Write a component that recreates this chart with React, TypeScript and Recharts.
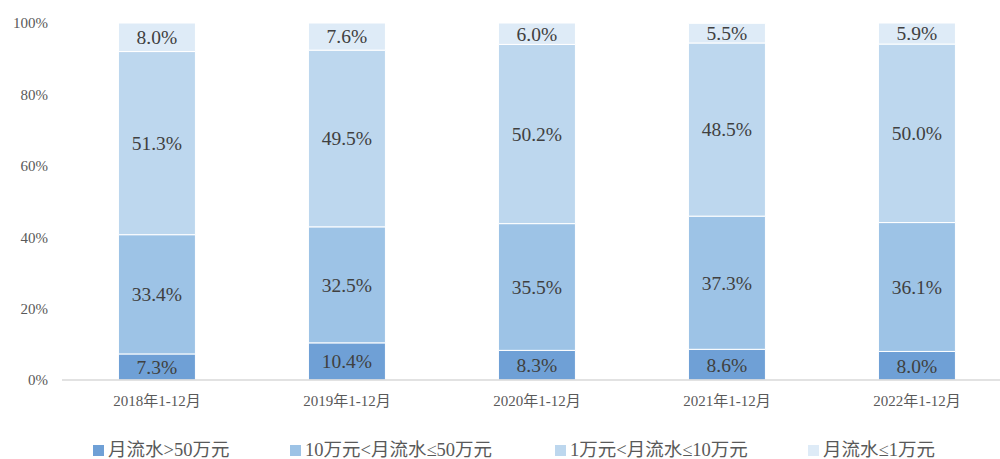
import React from 'react';
import { BarChart, Bar, XAxis, YAxis, LabelList } from 'recharts';

const categories = ['2018年1-12月', '2019年1-12月', '2020年1-12月', '2021年1-12月', '2022年1-12月'];
const seriesNames = ['月流水>50万元', '10万元<月流水≤50万元', '1万元<月流水≤10万元', '月流水≤1万元'];
const over50 = [7.3, 10.4, 8.3, 8.6, 8.0];
const from10to50 = [33.4, 32.5, 35.5, 37.3, 36.1];
const from1to10 = [51.3, 49.5, 50.2, 48.5, 50.0];
const under1 = [8.0, 7.6, 6.0, 5.5, 5.9];
const yTicks = [0, 20, 40, 60, 80, 100];

const colors = ['#6fa0d6', '#9dc3e6', '#bdd7ee', '#deebf7'];
const keys = ['s0', 's1', 's2', 's3'];
const legendLefts = [93, 290, 555, 808];

const data = categories.map((c, i) => ({
  name: c,
  s0: over50[i],
  s1: from10to50[i],
  s2: from1to10[i],
  s3: under1[i],
}));

const fontFamily = '"Liberation Serif", "Noto Sans CJK SC", serif';

export default function App() {
  return (
    <div style={{ position: 'absolute', left: 0, top: 0, width: 1000, height: 459, background: '#fff', fontFamily, overflow: 'hidden' }}>
      <BarChart
        width={1012}
        height={459}
        data={data}
        margin={{ top: 23, right: 0, left: 0, bottom: 49 }}
        barCategoryGap="29.7%"
      >
        <XAxis
          dataKey="name"
          tickLine={false}
          axisLine={{ stroke: '#d9d9d9', strokeWidth: 1.5 }}
          tick={{ fill: '#595959', fontSize: 15, fontFamily }}
          tickMargin={9}
          height={30}
        />
        <YAxis
          width={62}
          domain={[0, 100]}
          ticks={yTicks}
          tickFormatter={(v: number) => `${v}%`}
          tickLine={false}
          axisLine={false}
          tick={{ fill: '#595959', fontSize: 15, fontFamily }}
          tickMargin={8}
        />
        {keys.map((k, idx) => (
          <Bar
            key={k}
            dataKey={k}
            name={seriesNames[idx]}
            stackId="a"
            fill={colors[idx]}
            stroke="#ffffff"
            strokeWidth={1}
            isAnimationActive={false}
          >
            <LabelList
              dataKey={k}
              position="center"
              formatter={(v: any) => `${Number(v).toFixed(1)}%`}
              style={{ fill: '#404040', fontSize: 19.5, fontFamily }}
            />
          </Bar>
        ))}
      </BarChart>
      {seriesNames.map((n, i) => (
        <div
          key={n}
          style={{
            position: 'absolute',
            top: 441,
            left: legendLefts[i],
            display: 'flex',
            alignItems: 'center',
            fontSize: 18.5,
            color: '#595959',
            fontFamily,
            lineHeight: '18px',
            height: 18,
            whiteSpace: 'nowrap',
          }}
        >
          <span style={{ display: 'inline-block', width: 11, height: 11, background: colors[i], marginRight: 4 }} />
          <span>{n}</span>
        </div>
      ))}
    </div>
  );
}
